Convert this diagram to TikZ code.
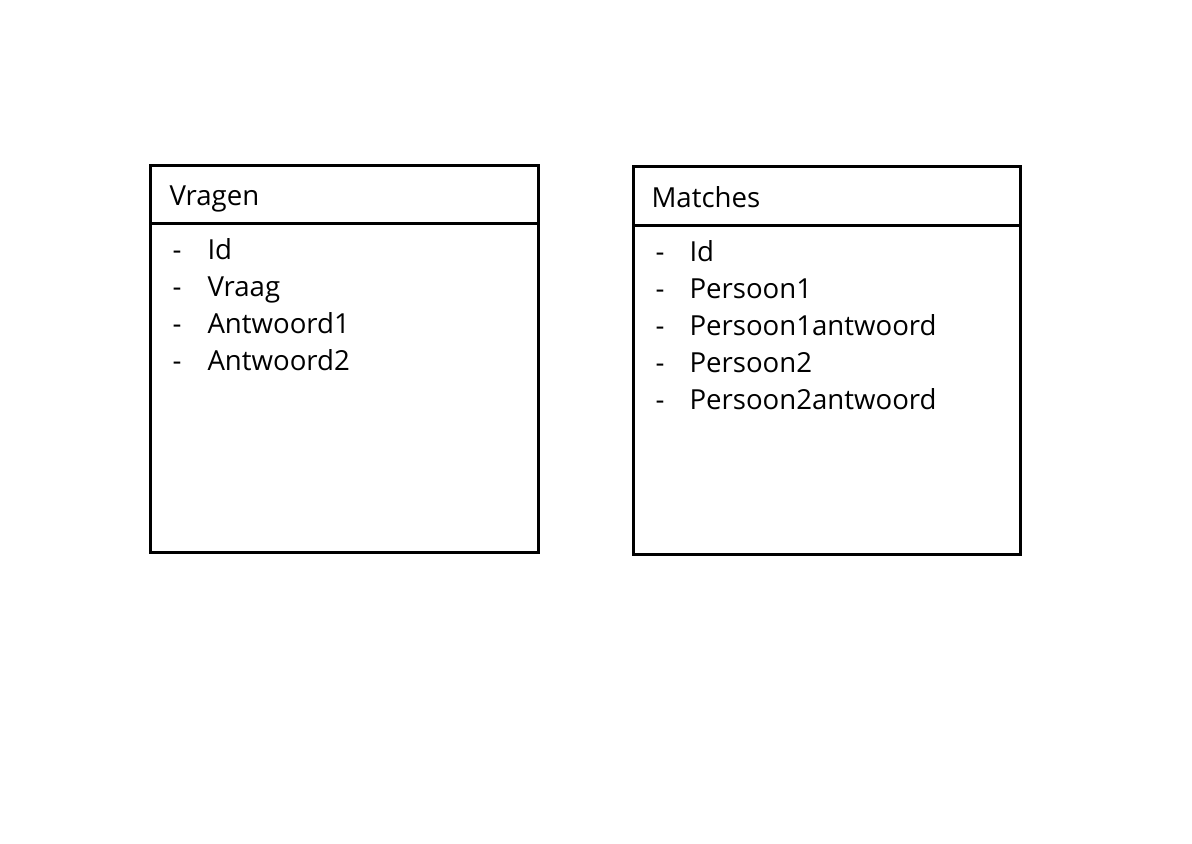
\documentclass[tikz,border=0pt]{standalone}
\usepackage{fontspec}
\setmainfont{Open Sans}
\usepackage{tikz}

\begin{document}
\begin{tikzpicture}[x=0.5pt, y=-0.5pt, line width=1.5pt,
    every node/.style={inner sep=0pt, anchor=base west, font=\fontsize{13.8}{16}\selectfont}]
      \useasboundingbox (0,0) rectangle (1192,843);

      \draw (150,165) rectangle (538,552);
      \draw (150,223) -- (538,223);
      \node (vragen) at (168,205) {Vragen};
      \node (vd1) at (171,259) {-};
      \node (vd2) at (171,296) {-};
      \node (vd3) at (171,333) {-};
      \node (vd4) at (171,370) {-};
      \node (vid) at (206,259) {Id};
      \node (vvraag) at (206,296) {Vraag};
      \node (vant1) at (206,333) {Antwoord1};
      \node (vant2) at (206,370) {Antwoord2};

      \draw (633,166) rectangle (1020,554);
      \draw (633,225) -- (1020,225);
      \node (matches) at (650,207) {Matches};
      \node (md1) at (654,261) {-};
      \node (md2) at (654,298) {-};
      \node (md3) at (654,335) {-};
      \node (md4) at (654,372) {-};
      \node (md5) at (654,409) {-};
      \node (mid) at (688,261) {Id};
      \node (mp1) at (688,298) {Persoon1};
      \node (mp1a) at (688,335) {Persoon1antwoord};
      \node (mp2) at (688,372) {Persoon2};
      \node (mp2a) at (688,409) {Persoon2antwoord};
    \end{tikzpicture}
\end{document}
